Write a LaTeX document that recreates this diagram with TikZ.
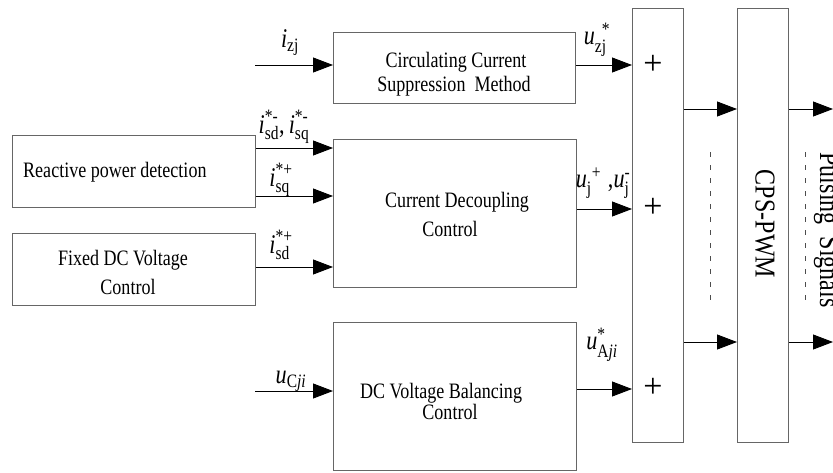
\documentclass[tikz,border=0pt]{standalone}
\usepackage{amsmath}
\usepackage{graphicx}
\usepackage{fontspec}
\setmainfont{Liberation Serif}[FakeStretch=0.82]
\newfontfamily\widefont{Liberation Serif}
\usetikzlibrary{arrows.meta}
\begin{document}
\begin{tikzpicture}[x=1pt,y=-1pt,
  blk/.style={draw=black!60,line width=1pt,inner sep=0pt,anchor=north west},
  arr/.style={draw=black,line width=0.9pt,-{Triangle[length=20pt,width=15pt]}},
  txt/.style={font=\fontsize{22}{26}\selectfont,inner sep=0pt},
  pls/.style={font=\widefont\fontsize{34}{38}\selectfont,inner sep=0pt},
  lbl/.style={font=\fontsize{27}{30}\selectfont,inner sep=0pt},
  dsh/.style={draw=black!70,line width=0.8pt,dash pattern=on 5pt off 8pt},
  rot/.style={font=\widefont\fontsize{24}{28}\selectfont,rotate=-90,inner sep=0pt}]
\useasboundingbox (0,0) rectangle (833,472);

% blocks
\node[blk,minimum width=242pt,minimum height=71pt] (ccs) at (333,32) {};
\node[blk,minimum width=243pt,minimum height=72pt] (rpd) at (12,135) {};
\node[blk,minimum width=243pt,minimum height=72pt] (fdc) at (12,233) {};
\node[blk,minimum width=243pt,minimum height=148pt] (cdc) at (333,139) {};
\node[blk,minimum width=243pt,minimum height=148pt] (dvb) at (333,322) {};
\node[blk,minimum width=51pt,minimum height=434pt] (sum) at (632,8) {};
\node[blk,minimum width=51pt,minimum height=434pt] (cps) at (737,8) {};

% block texts
\node[txt] (t1) at (456,62) {Circulating Current};
\node[txt] (t2) at (454,86) {Suppression\ \ Method};
\node[txt,anchor=west] (t3) at (23,172) {Reactive power detection};
\node[txt] (t4) at (123,260) {Fixed DC Voltage};
\node[txt] (t5) at (128,287) {Control};
\node[txt] (t6) at (457,202) {Current Decoupling};
\node[txt] (t7) at (450,229) {Control};
\node[txt] (t8) at (441,393) {DC Voltage Balancing};
\node[txt] (t9) at (450,412) {Control};
\node[pls] (p1) at (653,65) {+};
\node[pls] (p2) at (653,208) {+};
\node[pls] (p3) at (653,388) {+};
\node[rot] (tc) at (765,224) {\scalebox{1}[1.2]{CPS-PWM}};
\node[rot,anchor=base] (tp) at (820,230) {\scalebox{1}[1.2]{Pulsing\ \ Signals}};

% free ends
\coordinate (in1) at (255,65);
\coordinate (in2) at (255,391);
\coordinate (o1) at (833,109);
\coordinate (o2) at (833,342);
\coordinate (d1a) at (710,152);
\coordinate (d1b) at (710,305);
\coordinate (d2a) at (805,152);
\coordinate (d2b) at (805,305);

% connectors
\draw[arr] (in1) -- (ccs.west |- in1);
\draw[arr] (ccs.east |- in1) -- (sum.west |- in1);
\draw[arr] (rpd.east |- 0,148) -- (cdc.west |- 0,148);
\draw[arr] (rpd.east |- 0,196) -- (cdc.west |- 0,196);
\draw[arr] (fdc.east |- 0,267) -- (cdc.west |- 0,267);
\draw[arr] (cdc.east |- 0,209) -- (sum.west |- 0,209);
\draw[arr] (in2) -- (dvb.west |- in2);
\draw[arr] (dvb.east |- 0,389) -- (sum.west |- 0,389);
\draw[arr] (sum.east |- o1) -- (cps.west |- o1);
\draw[arr] (sum.east |- o2) -- (cps.west |- o2);
\draw[arr] (cps.east |- o1) -- (o1);
\draw[arr] (cps.east |- o2) -- (o2);
\draw[dsh] (d1a) -- (d1b);
\draw[dsh] (d2a) -- (d2b);

% labels
\node[lbl] (l1) at (290,43) {$\textit{i}_{\text{zj}}$};
\node[lbl] (l2) at (597,40) {$\textit{u}_{\text{zj}}^{\hskip7pt\text{*}}$};
\node[lbl] (l3) at (284,127) {$\textit{i}^{\text{*-}}_{\text{sd}}\text{,}\,\textit{i}^{\text{*-}}_{\text{sq}}$};
\node[lbl] (l4) at (281,180) {$\textit{i}^{\text{*+}}_{\text{sq}}$};
\node[lbl] (l5) at (281,245) {$\textit{i}^{\text{*+}}_{\text{sd}}$};
\node[lbl] (l6) at (603,183) {$\textit{u}^{\hskip5pt\text{+}}_{\text{j}}\;\text{,}\textit{u}^{\text{-}}_{\text{j}}$};
\node[lbl] (l7) at (291,381) {$\textit{u}_{\text{C\textit{ji}}}$};
\node[lbl] (l8) at (602,345) {$\textit{u}^{\text{*}}_{\text{A\textit{ji}}}$};
\end{tikzpicture}
\end{document}
